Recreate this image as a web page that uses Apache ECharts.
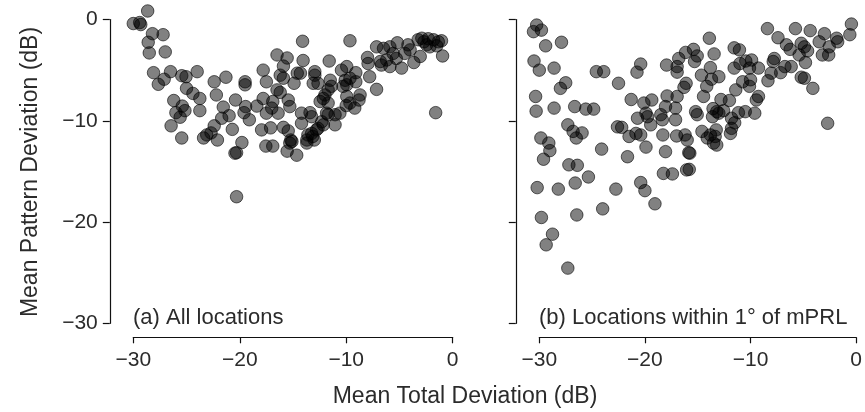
<!DOCTYPE html>
<html><head><meta charset="utf-8">
<script src="https://cdn.jsdelivr.net/npm/echarts@6/dist/echarts.min.js"></script>
<style>html,body{margin:0;padding:0;background:#fff}#c{width:865px;height:412px}</style>
</head><body><div id="c"></div>
<script>
// Panel (a): all locations  [mean total deviation, mean pattern deviation] in dB
const allLocations = [
[-28.65,0.84],[-30.0,-0.4],[-29.4,-0.3],[-29.3,-0.5],[-28.2,-1.4],[-27.2,-1.5],[-28.6,-2.25],[-28.5,-3.3],[-27.0,-3.2],
[-28.1,-5.25],[-27.1,-5.9],[-27.65,-6.4],[-26.5,-5.15],[-25.45,-5.55],[-25.05,-5.65],[-24.0,-5.15],[-25.0,-6.8],[-24.4,-7.3],
[-23.75,-7.8],[-23.75,-9.0],[-26.2,-8.0],[-25.4,-8.55],[-26.0,-9.2],[-25.6,-9.65],[-25.15,-9.0],[-26.45,-10.5],[-25.45,-11.7],
[-22.4,-6.15],[-21.3,-5.7],[-22.2,-7.45],[-21.55,-8.65],[-21.0,-9.5],[-21.7,-9.75],[-22.4,-10.5],[-23.1,-11.4],[-22.7,-11.2],
[-22.1,-11.9],[-23.4,-11.7],[-20.7,-10.85],[-19.8,-12.15],[-20.45,-13.2],[-20.3,-13.15],[-20.4,-7.95],[-19.5,-6.15],[-19.5,-6.45],
[-19.45,-8.6],[-19.6,-9.2],[-19.1,-9.9],[-18.4,-8.55],[-17.8,-5.0],[-17.5,-6.15],[-17.8,-7.8],[-16.9,-8.1],[-16.5,-3.5],
[-16.5,-6.95],[-17.5,-9.25],[-17.95,-10.9],[-17.1,-10.7],[-17.55,-12.5],[-16.9,-12.5],[-20.3,-17.5],[-14.1,-2.15],[-15.55,-3.8],
[-15.9,-4.6],[-14.05,-4.05],[-14.6,-5.3],[-14.3,-5.3],[-12.95,-5.15],[-11.6,-4.1],[-16.2,-5.5],[-15.9,-5.8],[-14.9,-6.3],
[-13.1,-6.3],[-12.65,-6.3],[-16.2,-7.2],[-15.45,-7.95],[-17.0,-8.75],[-15.3,-8.6],[-16.4,-9.25],[-15.9,-10.65],[-15.45,-11.0],
[-15.2,-11.9],[-15.3,-12.2],[-15.55,-13.0],[-14.65,-13.4],[-14.2,-10.25],[-13.4,-9.2],[-13.25,-9.6],[-14.2,-9.25],[-12.65,-10.75],
[-13.6,-11.4],[-13.7,-11.9],[-13.0,-11.9],[-12.3,-10.1],[-12.15,-7.8],[-12.45,-8.1],[-11.85,-9.25],[-11.7,-6.95],[-9.65,-2.1],
[-10.45,-5.0],[-9.95,-4.65],[-9.1,-5.25],[-8.0,-3.75],[-7.95,-4.35],[-7.15,-2.7],[-6.5,-2.85],[-5.9,-2.7],[-5.2,-2.3],
[-4.2,-2.5],[-3.25,-2.0],[-2.7,-2.2],[-2.45,-2.5],[-1.8,-2.0],[-1.35,-2.2],[-1.05,-2.1],[-2.15,-2.7],[-2.9,-1.85],[-2.3,-1.9],
[-1.5,-2.6],[-0.95,-3.6],[-3.05,-3.65],[-3.65,-4.25],[-4.8,-4.8],[-5.9,-4.65],[-6.7,-4.5],[-5.6,-3.35],[-5.3,-3.85],[-6.2,-4.0],
[-6.8,-4.15],[-4.5,-3.35],[-4.0,-3.0],[-1.6,-9.2],[-7.15,-6.9],[-7.8,-5.65],[-9.65,-5.8],[-9.1,-6.15],[-10.1,-6.0],[-9.95,-6.45],
[-10.3,-6.6],[-11.5,-6.0],[-11.4,-6.6],[-12.95,-5.5],[-12.0,-7.45],[-11.7,-8.25],[-9.95,-7.6],[-9.65,-8.25],[-9.2,-8.75],
[-8.8,-7.95],[-10.0,-8.5],[-10.6,-9.25],[-11.05,-9.4],[-11.05,-10.4],[-11.7,-9.4],[-12.15,-10.4],[-12.8,-10.9],[-13.25,-11.25],
[-13.15,-11.55],[-13.7,-12.2],[-15.1,-12.05],[-8.7,-7.45]
];
// Panel (b): locations within 1 degree of mPRL
const nearPRL = [
[-30.25,-0.55],[-30.55,-1.2],[-29.8,-1.05],[-29.4,-2.6],[-27.9,-2.25],[-30.5,-4.1],[-30.0,-5.0],[-28.6,-4.8],[-27.5,-6.25],
[-28.0,-6.8],[-30.35,-7.6],[-30.3,-9.05],[-28.6,-8.75],[-26.65,-8.6],[-25.6,-8.85],[-24.85,-8.85],[-24.6,-5.15],[-23.9,-5.15],
[-22.5,-6.3],[-20.4,-4.4],[-20.75,-5.2],[-21.3,-7.9],[-20.1,-8.25],[-19.35,-7.95],[-20.7,-9.75],[-19.9,-9.25],[-19.45,-10.4],
[-18.5,-9.4],[-18.35,-9.9],[-17.9,-7.55],[-16.95,-7.6],[-17.1,-8.75],[-17.1,-9.9],[-17.0,-11.5],[-18.3,-11.4],[-19.9,-12.6],
[-18.05,-13.05],[-21.65,-13.55],[-20.4,-11.4],[-20.85,-11.25],[-21.5,-11.55],[-22.2,-10.65],[-22.6,-10.6],[-24.1,-12.8],
[-27.3,-10.4],[-26.8,-11.05],[-25.95,-11.2],[-26.5,-11.7],[-29.85,-11.7],[-29.1,-12.2],[-29.0,-12.95],[-29.6,-13.8],
[-27.2,-14.35],[-26.4,-14.4],[-17.95,-4.5],[-16.95,-4.65],[-16.8,-3.85],[-16.95,-5.2],[-18.05,-8.6],[-25.35,-15.55],
[-26.6,-16.15],[-28.2,-16.75],[-30.2,-16.6],[-22.75,-16.75],[-24.0,-18.7],[-26.45,-19.3],[-29.8,-19.55],[-28.75,-21.2],
[-29.35,-22.25],[-27.3,-24.55],[-20.4,-16.1],[-20.0,-16.9],[-19.05,-18.2],[-18.25,-15.2],[-17.4,-15.25],[-16.05,-14.85],
[-15.8,-14.8],[-15.75,-13.2],[-13.9,-1.85],[-13.45,-3.4],[-15.4,-2.95],[-16.15,-3.25],[-15.05,-3.6],[-15.3,-4.15],[-14.65,-5.5],
[-13.8,-4.75],[-13.7,-5.9],[-14.15,-6.6],[-14.45,-7.6],[-16.1,-6.3],[-16.3,-6.7],[-19.75,-9.6],[-16.2,-11.4],[-16.0,-11.9],
[-14.6,-11.05],[-15.2,-9.1],[-15.05,-9.4],[-13.6,-9.6],[-13.2,-9.1],[-13.35,-11.55],[-13.8,-11.4],[-13.5,-12.2],[-15.85,-13.15],
[-0.45,-0.45],[-0.6,-1.5],[-1.85,-1.85],[-1.75,-2.2],[-3.0,-1.4],[-3.5,-2.2],[-2.55,-2.7],[-3.2,-3.5],[-2.6,-3.5],[-4.35,-1.1],
[-5.75,-0.9],[-8.4,-0.9],[-7.4,-1.8],[-6.6,-2.5],[-6.25,-2.95],[-5.2,-2.35],[-4.9,-2.7],[-4.6,-3.1],[-5.4,-3.5],[-4.8,-4.25],
[-7.75,-3.85],[-7.85,-4.15],[-6.75,-4.65],[-6.15,-4.65],[-7.15,-5.25],[-8.05,-5.3],[-8.35,-6.05],[-9.25,-4.8],[-9.9,-4.0],
[-10.45,-4.1],[-10.0,-5.95],[-10.75,-6.15],[-11.05,-3.0],[-11.55,-2.8],[-11.0,-4.35],[-11.55,-4.8],[-11.4,-6.95],[-9.45,-7.95],
[-9.6,-9.25],[-9.25,-7.6],[-10.5,-9.1],[-11.15,-9.2],[-11.8,-9.75],[-11.5,-10.2],[-11.8,-10.75],[-11.9,-11.25],[-13.0,-9.25],
[-13.25,-10.9],[-13.2,-12.4],[-14.1,-11.7],[-2.7,-10.25],[-4.1,-6.8],[-4.9,-5.8],[-5.2,-5.7],[-13.0,-5.65],[-10.1,-4.8],
[-10.1,-6.6],[-12.8,-7.9],[-13.55,-8.8],[-12.0,-8.0],[-12.55,-9.0]
];
const xTicks = [-30, -20, -10, 0];
const yTicks = [-30, -20, -10, 0];
const panelLabels = ['(a) All locations', '(b) Locations within 1° of mPRL'];
const xTitle = 'Mean Total Deviation (dB)';
const yTitle = 'Mean Pattern Deviation (dB)';

const FONT = 'Liberation Sans';
const TXT = '#2b2b2b';
const fmt = v => String(v).replace('-', '\u2212');
const lineStyle = { color: '#111', width: 1.2 };

function xAxis(gi) {
  return { gridIndex: gi, type: 'value', min: xTicks[0], max: xTicks[xTicks.length-1], interval: 10,
    position: 'bottom', offset: 14,
    axisLine: { show: true, onZero: false, lineStyle },
    axisTick: { show: true, length: 6, lineStyle },
    axisLabel: { show: true, margin: 12, fontFamily: FONT, fontSize: 21, color: TXT, formatter: fmt },
    splitLine: { show: false } };
}
function yAxis(gi, labels) {
  return { gridIndex: gi, type: 'value', min: yTicks[0], max: yTicks[yTicks.length-1], interval: 10,
    position: 'left', offset: 23.5,
    axisLine: { show: true, onZero: false, lineStyle },
    axisTick: { show: true, length: 7, lineStyle },
    axisLabel: { show: labels, margin: 12, fontFamily: FONT, fontSize: 21, color: TXT, formatter: fmt },
    splitLine: { show: false } };
}
const dotStyle = { color: 'rgba(0,0,0,0.62)', borderColor: 'rgba(0,0,0,0.75)', borderWidth: 1 };

const chart = echarts.init(document.getElementById('c'), null, { renderer: 'canvas' });
chart.setOption({
  animation: false,
  backgroundColor: '#fff',
  grid: [
    { left: 133.3, top: 19.5, width: 319.4, height: 303.8 },
    { left: 539.3, top: 19.5, width: 319.7, height: 303.8 }
  ],
  xAxis: [xAxis(0), xAxis(1)],
  yAxis: [yAxis(0, true), yAxis(1, false)],
  series: [
    { type: 'scatter', xAxisIndex: 0, yAxisIndex: 0, data: allLocations, symbolSize: 12.5, clip: false, itemStyle: dotStyle },
    { type: 'scatter', xAxisIndex: 1, yAxisIndex: 1, data: nearPRL, symbolSize: 12.5, clip: false, itemStyle: dotStyle }
  ],
  graphic: [
    { type: 'text', x: 133, y: 318, style: { text: panelLabels[0], font: '22px "' + FONT + '"', fill: TXT, verticalAlign: 'middle' } },
    { type: 'text', x: 539, y: 318, style: { text: panelLabels[1], font: '22px "' + FONT + '"', fill: TXT, verticalAlign: 'middle' } },
    { type: 'text', x: 465, y: 397, style: { text: xTitle, font: '23px "' + FONT + '"', fill: TXT, align: 'center', verticalAlign: 'middle' } },
    { type: 'text', x: 31, y: 172, rotation: Math.PI / 2, style: { text: yTitle, font: '23px "' + FONT + '"', fill: TXT, align: 'center', verticalAlign: 'middle' } }
  ]
});
</script>
</body></html>
